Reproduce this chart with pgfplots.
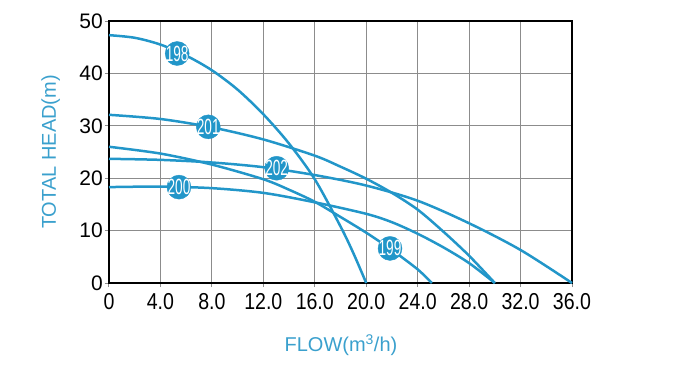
\documentclass[border=0pt]{standalone}
\usepackage{fontspec}
\setmainfont{Liberation Sans}
\newfontfamily\condfont[FakeStretch=0.85]{Liberation Sans}
\newfontfamily\narrowfont[FakeStretch=0.62]{Liberation Sans}
\usepackage{pgfplots}
\pgfplotsset{compat=1.18}
\definecolor{curve}{RGB}{34,150,201}
\definecolor{lab}{RGB}{58,160,205}
\definecolor{gridc}{RGB}{140,140,140}
\begin{document}
\begin{tikzpicture}
\path[use as bounding box] (-109pt,-84pt) rectangle (591pt,283pt);
\begin{axis}[
  at={(0pt,0pt)}, anchor=south west,
  scale only axis, width=463pt, height=262pt,
  xmin=0, xmax=36, ymin=0, ymax=50,
  xtick={0,4,...,36}, ytick={0,10,...,50},
  xticklabels={0,4.0,8.0,12.0,16.0,20.0,24.0,28.0,32.0,36.0},
  grid=major, major grid style={gridc, line width=1.2pt},
  axis line style={black, line width=2.2pt},
  tick style={gridc, line width=1pt}, major tick length=4pt, tick align=outside,
  xtick pos=bottom, ytick pos=left,
  /pgf/number format/assume math mode=true,
  xticklabel style={font=\condfont\fontsize{23}{23}\selectfont, inner sep=2pt, yshift=-4pt},
  yticklabel style={font=\fontsize{21}{21}\selectfont, inner sep=2pt},
  xlabel={FLOW(m\textsuperscript{3}/h)},
  xlabel style={font=\fontsize{20}{20}\selectfont, text=lab, at={(axis description cs:0.501,-0.237)}, anchor=center},
  ylabel={TOTAL HEAD(m)},
  ylabel style={font=\fontsize{20}{20}\selectfont, text=lab, at={(axis description cs:-0.126,0.5)}, anchor=center, rotate=0},
  clip=false,
]
% 198
\addplot[curve, line width=2.5pt, smooth] coordinates {
 (0,47.3) (2,46.8) (4,45.5) (6,43.4) (8,40.6) (10,36.9) (12,32.2) (14,26.6) (16,19.8) (18,10.8) (19,5.7) (20,0)};
% 201
\addplot[curve, line width=2.5pt, smooth] coordinates {
 (0,32.1) (4,31.3) (8,29.7) (12,27.4) (16,24.3) (18,22.2) (20,19.9) (22,17.2) (24,14.0) (26,9.8) (28,5.2) (30,0)};
% 202
\addplot[curve, line width=2.5pt, smooth] coordinates {
 (0,23.7) (4,23.5) (8,23.0) (12,22.1) (16,20.6) (20,18.6) (24,15.7) (28,11.4) (32,6.3) (36,0)};
% 200
\addplot[curve, line width=2.5pt, smooth] coordinates {
 (0,18.3) (4,18.4) (8,18.1) (12,17.2) (16,15.4) (20,13.2) (22,11.6) (24,9.4) (26,6.8) (28,3.8) (30,0)};
% 199
\addplot[curve, line width=2.5pt, smooth] coordinates {
 (0,26.0) (4,24.7) (8,22.6) (12,19.8) (14,17.8) (16,15.5) (18,12.6) (20,9.6) (22,6.3) (24,2.6) (25.1,0)};
% labels
\addplot[only marks, mark=*, mark size=12pt, mark options={draw=curve, fill=curve},
  nodes near coords, point meta=explicit symbolic,
  every node near coord/.append style={anchor=center, text=white, inner sep=0pt, font=\narrowfont\fontsize{22}{22}\selectfont}]
  coordinates {(5.3,43.8)[198] (7.72,29.8)[201] (13.04,21.9)[202] (5.44,18.3)[200] (21.85,6.6)[199]};
\end{axis}
\end{tikzpicture}
\end{document}
